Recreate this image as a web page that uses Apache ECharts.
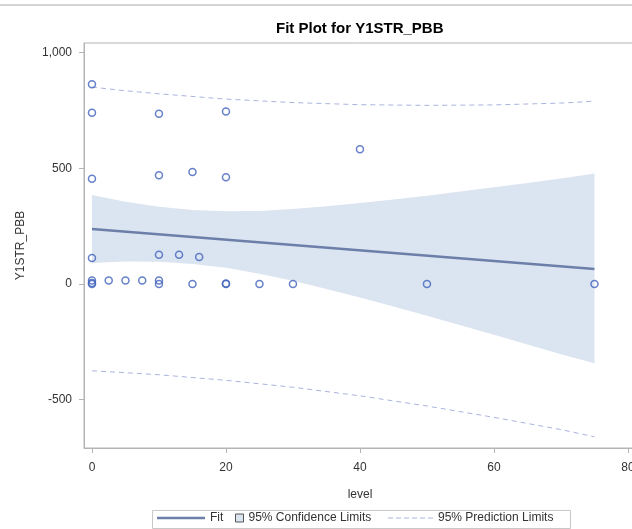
<!DOCTYPE html>
<html>
<head>
<meta charset="utf-8">
<script src="https://cdn.jsdelivr.net/npm/echarts@6/dist/echarts.min.js"></script>
<style>
  html, body { margin: 0; padding: 0; background: #fff; }
  #chart { width: 632px; height: 529px; }
</style>
</head>
<body>
<div id="chart"></div>
<script>
  // observed points (level, Y1STR_PBB)
  const levels = [0, 0, 0, 0, 0, 0, 0, 2.5, 5, 7.5, 10, 10, 10, 10, 10, 13, 15, 15, 16, 20, 20, 20, 20, 25, 30, 40, 50, 75]
  const values = [863, 740, 455, 112, 15, 5, 0, 15, 15, 15, 736, 470, 127, 15, 0, 127, 484, 0, 117, 746, 461, 2, 0, 0, 0, 582, 0, 0]

  // fitted line
  const fitX = [0, 75]
  const fitY = [238, 65]

  // 95% confidence band
  const confX = [0, 5, 10, 15, 20, 25, 30, 35, 40, 45, 50, 55, 60, 65, 70, 75]
  const confUpper = [385, 356, 334, 320, 314, 316, 324, 336, 350, 365, 382, 400, 418, 437, 456, 478]
  const confLower = [91, 97, 96, 87, 70, 44, 14, -21, -58, -97, -137, -178, -219, -261, -303, -342]

  // 95% prediction limits
  const predX = [0, 5, 10, 20, 30, 40, 50, 60, 70, 75]
  const predUpper = [851, 835, 822, 799, 784, 775, 772, 774, 782, 790]
  const predLower = [-375, -383, -392, -416, -446, -483, -527, -576, -629, -660]

  const yTicks = [-500, 0, 500, 1000]
  const xTicks = [0, 20, 40, 60, 80]

  const zip = (xs, ys) => xs.map((x, i) => [x, ys[i]])

  const fitColor = '#6b7fa8'
  const bandColor = '#dbe4f1'
  const predColor = '#aab4de'
  const dotColor = '#4062bb'
  const axisColor = '#b4b4b4'
  const font = 'Arial, "Liberation Sans", sans-serif'

  // legend glyphs (line and dashed line)
  const fitIcon = 'path://M0,0L48,0L48,2.5L0,2.5Z'
  const predIcon = 'path://M0,0h5v1h-5z M8,0h5v1h-5z M16,0h5v1h-5z M24,0h5v1h-5z M32,0h5v1h-5z M40,0h5v1h-5z'

  let chart = echarts.init(document.getElementById('chart'), null, { renderer: 'canvas' })

  let legendText = { fontFamily: font, fontSize: 12, color: '#333' }

  let option = {
    animation: false,
    backgroundColor: '#fff',
    title: {
      text: 'Fit Plot for Y1STR_PBB',
      left: 276,
      top: 21,
      padding: 0,
      textStyle: {
        fontFamily: font,
        fontWeight: 'bold',
        fontSize: 15,
        color: '#000'
      }
    },
    grid: {
      left: 84,
      right: -4,
      top: 43,
      bottom: 81,
      containLabel: false,
      outerBoundsMode: 'none',
      show: true,
      borderColor: axisColor,
      borderWidth: 1,
      backgroundColor: 'transparent'
    },
    xAxis: {
      type: 'value',
      min: -1.19,
      max: 81.2,
      name: 'level',
      nameLocation: 'middle',
      nameGap: 41,
      nameTextStyle: { fontFamily: font, fontSize: 12, color: '#333' },
      axisLine: { show: true, onZero: false, lineStyle: { color: axisColor, width: 1 } },
      axisTick: { show: true, customValues: xTicks, length: 5, lineStyle: { color: axisColor } },
      axisLabel: {
        customValues: xTicks,
        margin: 14,
        fontFamily: font,
        fontSize: 12,
        color: '#333'
      },
      splitLine: { show: false }
    },
    yAxis: {
      type: 'value',
      min: -708.5,
      max: 1041.5,
      name: 'Y1STR_PBB',
      nameLocation: 'middle',
      nameGap: 57,
      nameRotate: 90,
      nameTextStyle: { fontFamily: font, fontSize: 12, color: '#333' },
      axisLine: { show: true, onZero: false, lineStyle: { color: axisColor, width: 1 } },
      axisTick: { show: true, customValues: yTicks, length: 5, lineStyle: { color: axisColor } },
      axisLabel: {
        customValues: yTicks,
        margin: 12,
        fontFamily: font,
        fontSize: 12,
        color: '#333',
        formatter: v => v.toLocaleString('en-US')
      },
      splitLine: { show: false }
    },
    legend: [
      {
        left: 157, top: 512, padding: 0,
        itemWidth: 48, itemHeight: 2.5,
        textStyle: legendText,
        data: [{ name: 'Fit', icon: fitIcon, itemStyle: { color: fitColor, borderWidth: 0 } }]
      },
      {
        left: 235, top: 512, padding: 0,
        itemWidth: 8, itemHeight: 8,
        textStyle: legendText,
        data: [{
          name: '95% Confidence Limits',
          icon: 'rect',
          itemStyle: { color: bandColor, borderColor: '#555', borderWidth: 1 }
        }]
      },
      {
        left: 388, top: 512, padding: 0,
        itemWidth: 45, itemHeight: 1,
        textStyle: legendText,
        data: [{ name: '95% Prediction Limits', icon: predIcon, itemStyle: { color: predColor, borderWidth: 0 } }]
      }
    ],
    graphic: [
      {
        type: 'line',
        shape: { x1: 0, y1: 5, x2: 632, y2: 5 },
        style: { stroke: '#d4d4d4', lineWidth: 2 },
        silent: true
      },
      {
        type: 'rect',
        shape: { x: 152.5, y: 510.5, width: 418, height: 18 },
        style: { fill: 'none', stroke: '#c8c8c8', lineWidth: 1 },
        silent: true
      }
    ],
    series: [
      {
        name: '95% Confidence Limits',
        type: 'custom',
        data: confX.map((x, i) => [x, confUpper[i], confLower[i]]),
        encode: { x: 0, y: [1, 2] },
        itemStyle: { color: bandColor },
        silent: true,
        clip: true,
        z: 1,
        renderItem: function(params, api){
          if (params.dataIndex !== 0) return
          let top = confX.map((x, i) => api.coord([x, confUpper[i]]))
          let bottom = confX.map((x, i) => api.coord([x, confLower[i]])).reverse()
          return {
            type: 'polygon',
            shape: { points: top.concat(bottom) },
            style: { fill: bandColor }
          }
        }
      },
      {
        name: '95% Prediction Limits',
        type: 'line',
        data: zip(predX, predUpper),
        symbol: 'none',
        itemStyle: { color: predColor },
        lineStyle: { color: predColor, width: 1, type: [5, 4] },
        z: 2
      },
      {
        name: '95% Prediction Limits',
        type: 'line',
        data: zip(predX, predLower),
        symbol: 'none',
        itemStyle: { color: predColor },
        lineStyle: { color: predColor, width: 1, type: [5, 4] },
        z: 2
      },
      {
        name: 'Fit',
        type: 'line',
        data: zip(fitX, fitY),
        symbol: 'none',
        itemStyle: { color: fitColor },
        lineStyle: { color: fitColor, width: 2.5 },
        z: 3
      },
      {
        name: 'Y1STR_PBB',
        type: 'scatter',
        data: zip(levels, values),
        symbol: 'circle',
        symbolSize: 7,
        itemStyle: { color: 'rgba(255,255,255,0)', borderColor: dotColor, borderWidth: 1.5 },
        z: 4
      }
    ]
  }

  chart.setOption(option)
</script>
</body>
</html>
